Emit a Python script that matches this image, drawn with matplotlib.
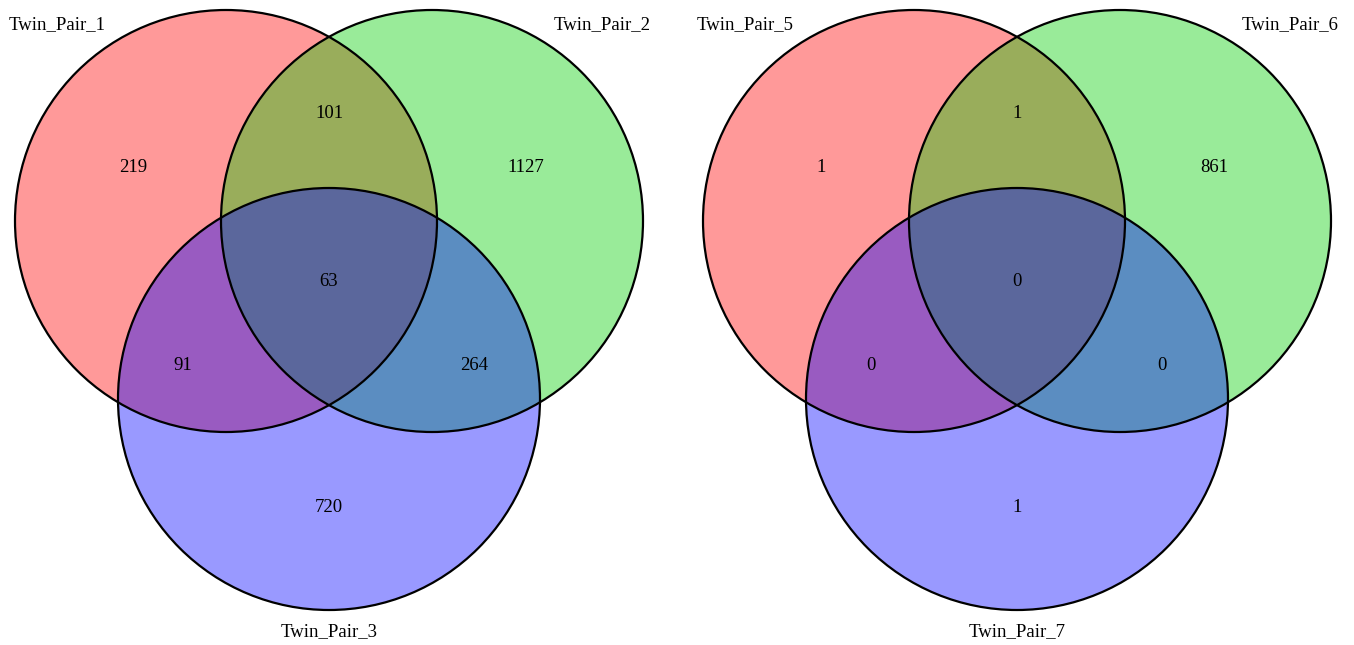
import matplotlib.pyplot as plt
from matplotlib.patches import Circle

plt.rcParams['font.family'] = ['Liberation Serif', 'DejaVu Serif']

# set names for the two three-way diagrams
left_sets = ['Twin_Pair_1', 'Twin_Pair_2', 'Twin_Pair_3']
right_sets = ['Twin_Pair_5', 'Twin_Pair_6', 'Twin_Pair_7']

# region counts, order: A only, A&B, B only, A&B&C, A&C, B&C, C only
left_counts = [219, 101, 1127, 63, 91, 264, 720]
right_counts = [1, 1, 861, 0, 0, 0, 1]

fills = ['red', '#00CD00', 'blue']


def venn3(ax, x0, names, counts):
    r = 211
    centres = [(x0, 221), (x0 + 206, 221), (x0 + 103, 399)]
    for (cx, cy), col in zip(centres, fills):
        ax.add_patch(Circle((cx, cy), r, facecolor=col, alpha=0.4, edgecolor='none'))
    for cx, cy in centres:
        ax.add_patch(Circle((cx, cy), r, facecolor='none', edgecolor='black', lw=1.6))

    # region label positions relative to the first centre
    spots = [(-93, -53), (103, -108), (300, -53), (103, 60),
             (-43, 144), (248, 144), (103, 287)]
    for (dx, dy), n in zip(spots, counts):
        ax.text(x0 + dx, 221 + dy, str(n), ha='center', va='center', fontsize=13.5)

    ax.text(x0 - 169, 25, names[0], ha='center', va='center', fontsize=13.5)
    ax.text(x0 + 376, 25, names[1], ha='center', va='center', fontsize=13.5)
    ax.text(x0 + 103, 632, names[2], ha='center', va='center', fontsize=13.5)


fig = plt.figure(figsize=(13.54, 6.45), dpi=100)
ax = fig.add_axes([0, 0, 1, 1])
ax.set_xlim(0, 1354)
ax.set_ylim(645, 0)
ax.set_aspect('equal')
ax.axis('off')

venn3(ax, 226, left_sets, left_counts)
venn3(ax, 914, right_sets, right_counts)

fig.savefig('out.png', dpi=100, facecolor='white')
